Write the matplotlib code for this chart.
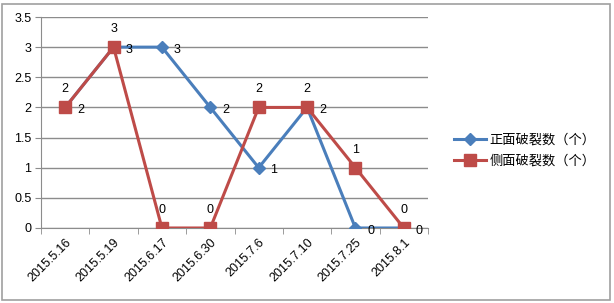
import matplotlib.pyplot as plt
from matplotlib.patches import Rectangle
import numpy as np

# data
dates = ['2015.5.16', '2015.5.19', '2015.6.17', '2015.6.30',
         '2015.7.6', '2015.7.10', '2015.7.25', '2015.8.1']
front = [2, 3, 3, 2, 1, 2, 0, 0]   # 正面破裂数（个）
side = [2, 3, 0, 0, 2, 2, 1, 0]    # 侧面破裂数（个）

blue = '#4A7EBB'
red = '#BE4B48'
grid_c = '#8C8C8C'

plt.rcParams['font.family'] = ['Liberation Sans', 'DejaVu Sans']

dpi = 100
fig = plt.figure(figsize=(614/dpi, 303/dpi), dpi=dpi)
ax = fig.add_axes([41/614, 1-228/303, (428-41)/614, (228-17)/303])

x = np.arange(len(dates))
l1, = ax.plot(x, front, color=blue, lw=2.2, marker='D', ms=6.5,
              label='正面破裂数（个）', zorder=3)
l2, = ax.plot(x, side, color=red, lw=2.2, marker='s', ms=8,
              label='侧面破裂数（个）', zorder=4)

for xi, v in zip(x, front):
    ax.annotate(str(v), (xi, v), xytext=(11, -2), textcoords='offset points',
                ha='center', va='center', fontsize=9, zorder=5)
for xi, v in zip(x, side):
    ax.annotate(str(v), (xi, v), xytext=(0, 13), textcoords='offset points',
                ha='center', va='center', fontsize=9, zorder=5)

ax.set_xlim(-0.5, len(dates) - 0.5)
ax.set_ylim(0, 3.5)
ax.set_yticks(np.arange(0, 3.51, 0.5))
ax.set_yticklabels(['0', '0.5', '1', '1.5', '2', '2.5', '3', '3.5'], fontsize=9)
ax.set_xticks(x)
ax.set_xticklabels(dates, rotation=45, ha='right', va='top',
                   rotation_mode='anchor', fontsize=9)
ax.set_xticks(np.arange(-0.5, len(dates)), minor=True)
ax.tick_params(axis='x', which='major', length=0, pad=6)
ax.tick_params(axis='x', which='minor', length=4, color=grid_c, direction='out')
ax.tick_params(axis='y', length=4, color=grid_c, direction='out', pad=3)
ax.yaxis.grid(True, color=grid_c, lw=1)
ax.set_axisbelow(True)
for s in ['top', 'right']:
    ax.spines[s].set_visible(False)
for s in ['left', 'bottom']:
    ax.spines[s].set_color(grid_c)

fig.legend(handles=[l1, l2], loc='center left', bbox_to_anchor=(442/614, 1-151/303),
           frameon=False, prop={'family': ['Noto Sans CJK SC'], 'size': 9.5},
           handlelength=2.4, handletextpad=0.3, labelspacing=0.6)

fig.patches.append(Rectangle((2/614, 3/303), 608/614, 296/303, transform=fig.transFigure,
                             fill=False, edgecolor='#A0A0A0', lw=1.2))

fig.savefig('out.png', dpi=dpi)
